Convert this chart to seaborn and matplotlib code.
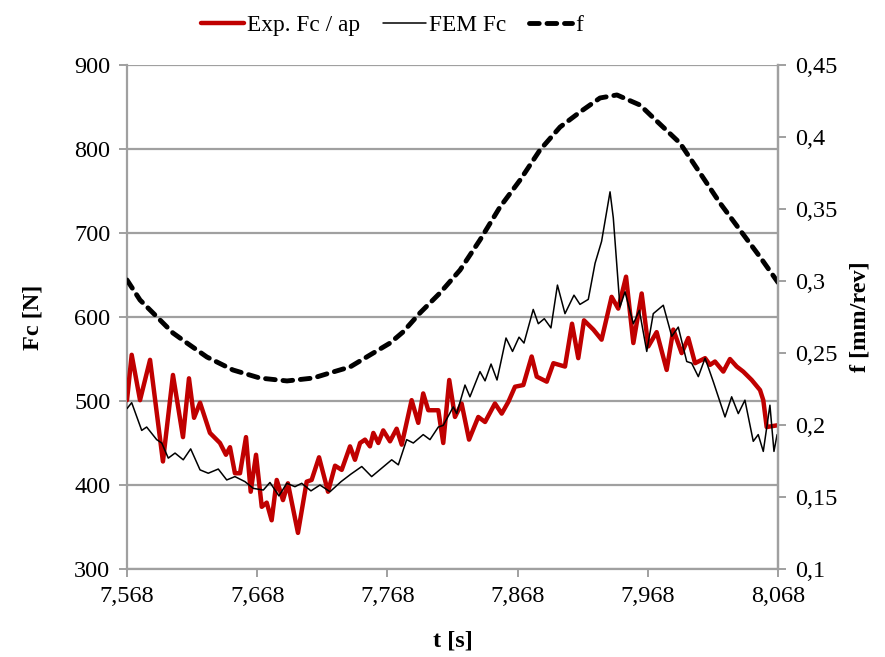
import numpy as np
import pandas as pd
import matplotlib
matplotlib.use("Agg")
import matplotlib.pyplot as plt
import seaborn as sns
from matplotlib.ticker import FuncFormatter, FixedLocator

# ---- data ----
exp_t = [7.5680, 7.5716, 7.5780, 7.5857, 7.5956, 7.6033, 7.6110, 7.6156, 7.6195, 7.6241,
         7.6317, 7.6394, 7.6440, 7.6471, 7.6509, 7.6548, 7.6594, 7.6630, 7.6671, 7.6715,
         7.6753, 7.6791, 7.6830, 7.6878, 7.6916, 7.6993, 7.7060, 7.7098, 7.7155, 7.7224,
         7.7278, 7.7329, 7.7393, 7.7431, 7.7470, 7.7508, 7.7546, 7.7572, 7.7610, 7.7648,
         7.7700, 7.7751, 7.7790, 7.7866, 7.7917, 7.7955, 7.7994, 7.8071, 7.8109, 7.8155,
         7.8199, 7.8250, 7.8307, 7.8378, 7.8430, 7.8506, 7.8558, 7.8609, 7.8660, 7.8724,
         7.8788, 7.8827, 7.8904, 7.8955, 7.9044, 7.9098, 7.9146, 7.9190, 7.9262, 7.9325,
         7.9402, 7.9453, 7.9513, 7.9569, 7.9633, 7.9684, 7.9748, 7.9825, 7.9876, 7.9940,
         7.9991, 8.0043, 8.0120, 8.0158, 8.0196, 8.0260, 8.0311, 8.0363, 8.0413, 8.0478,
         8.0542, 8.0567, 8.0593, 8.0672]
exp_fc = [501, 555, 501, 549, 428, 531, 457, 527, 480, 498,
          462, 450, 436, 445, 414, 414, 457, 392, 436, 374,
          379, 358, 406, 382, 402, 343, 404, 406, 433, 392,
          423, 418, 446, 430, 450, 454, 446, 462, 450, 465,
          452, 467, 448, 501, 474, 509, 489, 489, 450, 525,
          481, 497, 454, 481, 475, 497, 485, 499, 517, 519,
          553, 529, 523, 545, 541, 592, 551, 596, 585, 573,
          624, 610, 648, 569, 628, 565, 582, 537, 585, 557,
          575, 545, 551, 543, 547, 535, 550, 541, 535, 525,
          513, 501, 469, 471]

fem_t = [7.5680, 7.5716, 7.5793, 7.5831, 7.5908, 7.5947, 7.5997, 7.6049, 7.6112, 7.6169,
         7.6241, 7.6304, 7.6381, 7.6446, 7.6509, 7.6586, 7.6650, 7.6727, 7.6778, 7.6847,
         7.6907, 7.6970, 7.7022, 7.7093, 7.7162, 7.7239, 7.7324, 7.7400, 7.7483, 7.7559,
         7.7636, 7.7713, 7.7764, 7.7828, 7.7879, 7.7955, 7.8007, 7.8071, 7.8109, 7.8186,
         7.8212, 7.8276, 7.8314, 7.8391, 7.8430, 7.8476, 7.8522, 7.8591, 7.8641, 7.8691,
         7.8729, 7.8800, 7.8839, 7.8885, 7.8936, 7.8986, 7.9044, 7.9113, 7.9159, 7.9223,
         7.9275, 7.9325, 7.9390, 7.9415, 7.9466, 7.9505, 7.9569, 7.9615, 7.9672, 7.9722,
         7.9799, 7.9864, 7.9914, 7.9979, 8.0017, 8.0068, 8.0120, 8.0183, 8.0273, 8.0324,
         8.0375, 8.0426, 8.0490, 8.0528, 8.0567, 8.0618, 8.0649, 8.0673]
fem_fc = [491, 498, 465, 469, 454, 450, 432, 438, 430, 443,
          418, 414, 419, 406, 410, 404, 396, 394, 403, 387,
          402, 398, 402, 393, 400, 392, 404, 413, 422, 410,
          420, 430, 424, 454, 450, 460, 454, 469, 471, 493,
          485, 519, 505, 535, 524, 544, 525, 575, 559, 576,
          569, 609, 592, 598, 587, 638, 604, 626, 615, 621,
          664, 690, 749, 718, 612, 630, 592, 608, 559, 604,
          614, 577, 588, 547, 545, 529, 551, 523, 481, 505,
          485, 501, 452, 460, 440, 495, 440, 460]

f_t = [7.5680, 7.5780, 7.5880, 7.6033, 7.6141, 7.6294, 7.6494, 7.6701, 7.6909, 7.7109,
       7.7262, 7.7393, 7.7546, 7.7700, 7.7800, 7.7930, 7.8084, 7.8238, 7.8391, 7.8545,
       7.8699, 7.8852, 7.9006, 7.9160, 7.9313, 7.9443, 7.9620, 7.9740, 7.9927, 8.0081,
       8.0234, 8.0388, 8.0542, 8.0680]
f_val = [0.3007, 0.2868, 0.2778, 0.2639, 0.2569, 0.2472, 0.2382, 0.2326, 0.2306, 0.2326,
         0.2368, 0.2403, 0.2486, 0.2569, 0.2646, 0.2778, 0.2917, 0.3076, 0.3285, 0.3514,
         0.3701, 0.3910, 0.4069, 0.4174, 0.4271, 0.4292, 0.4222, 0.4118, 0.3958, 0.3750,
         0.3542, 0.3354, 0.3167, 0.2990]

x_ticks = [7.568, 7.668, 7.768, 7.868, 7.968, 8.068]
y_left_ticks = [300, 400, 500, 600, 700, 800, 900]
y_right_ticks = [0.1, 0.15, 0.2, 0.25, 0.3, 0.35, 0.4, 0.45]

# ---- style ----
sns.set_theme(style="white")
plt.rcParams['font.family'] = ['Liberation Serif', 'DejaVu Serif']
plt.rcParams['font.size'] = 17.5
plt.rcParams['text.color'] = 'black'
plt.rcParams['axes.labelcolor'] = 'black'
plt.rcParams['xtick.color'] = 'black'
plt.rcParams['ytick.color'] = 'black'

fig = plt.figure(figsize=(8.85, 6.57), dpi=100)
ax = fig.add_axes([127/885, 1-569/657, (778-127)/885, (569-65)/657])
ax2 = ax.twinx()

grid_c = '#A0A0A0'
df_exp = pd.DataFrame({'t': exp_t, 'Fc': exp_fc})
df_fem = pd.DataFrame({'t': fem_t, 'Fc': fem_fc})
df_f = pd.DataFrame({'t': f_t, 'f': f_val})

sns.lineplot(data=df_exp, x='t', y='Fc', ax=ax, color='#C00000', lw=3.2,
             sort=False, estimator=None, solid_joinstyle='round', zorder=4, label='Exp. Fc / ap')
sns.lineplot(data=df_fem, x='t', y='Fc', ax=ax, color='black', lw=1.1,
             sort=False, estimator=None, solid_joinstyle='round', zorder=5, label='FEM Fc')
sns.lineplot(data=df_f, x='t', y='f', ax=ax2, color='black', lw=3.5,
             sort=False, estimator=None, label='f')
ax2.lines[0].set_linestyle((0, (2.0, 1.6)))
ax2.lines[0].set_dash_capstyle('round')

ax.set_xlim(7.568, 8.068)
ax.set_ylim(300, 900)
ax2.set_ylim(0.1, 0.45)
ax.xaxis.set_major_locator(FixedLocator(x_ticks))
ax.yaxis.set_major_locator(FixedLocator(y_left_ticks))
ax2.yaxis.set_major_locator(FixedLocator(y_right_ticks))

comma = lambda fmt: FuncFormatter(lambda v, p: fmt(v).replace('.', ','))
ax.xaxis.set_major_formatter(comma(lambda v: f"{v:.3f}"))
ax.yaxis.set_major_formatter(comma(lambda v: f"{v:.0f}"))
ax2.yaxis.set_major_formatter(comma(lambda v: f"{v:.2f}".rstrip('0')))

ax.grid(axis='y', color=grid_c, lw=1.6)
ax.grid(axis='x', visible=False)
ax2.grid(False)
ax.set_axisbelow(True)

for a in (ax, ax2):
    for s in a.spines.values():
        s.set_color(grid_c)
        s.set_linewidth(1.6)
    a.spines['top'].set_visible(False)
ax2.spines['left'].set_visible(False)
ax2.spines['bottom'].set_visible(False)

ax.tick_params(axis='both', which='major', direction='out', length=6, width=1.4,
               color=grid_c, labelsize=17.5, labelcolor='black', pad=6)
ax.tick_params(axis='y', left=True)
ax.tick_params(axis='x', bottom=True)
ax2.tick_params(axis='y', which='major', direction='out', length=6, width=1.4,
                color=grid_c, labelsize=17.5, labelcolor='black', pad=6, right=True)

ax.set_xlabel('t [s]', fontweight='bold', fontsize=17.5, labelpad=17, color='black')
ax.set_ylabel('Fc [N]', fontweight='bold', fontsize=17.5, labelpad=22, color='black')
ax2.set_ylabel('f [mm/rev]', fontweight='bold', fontsize=17.5, labelpad=9, color='black')

# combined legend
if ax.get_legend():
    ax.get_legend().remove()
if ax2.get_legend():
    ax2.get_legend().remove()
handles = ax.get_lines()[:2] + [ax2.get_lines()[0]]
labels = ['Exp. Fc / ap', 'FEM Fc', 'f']
fig.legend(handles, labels, loc='upper center', bbox_to_anchor=(0.443, 1.009), ncol=3,
           frameon=False, fontsize=16.8, handlelength=1.85, handletextpad=0.15,
           columnspacing=0.95, labelcolor='black')

fig.savefig('out.png', dpi=100)
